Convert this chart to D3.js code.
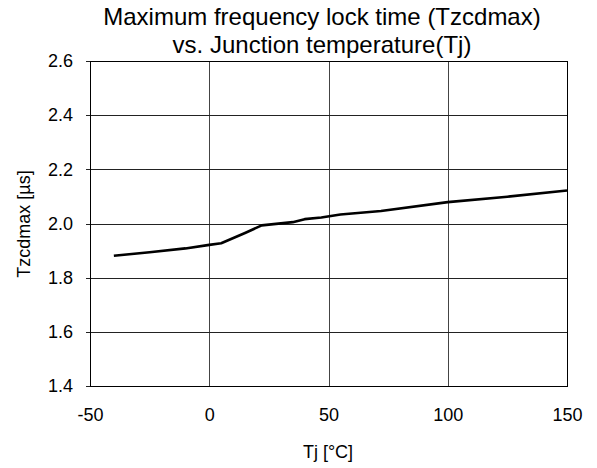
<!DOCTYPE html>
<html><head><meta charset="utf-8">
<script src="https://cdn.jsdelivr.net/npm/d3@7"></script>
<style>body{margin:0;background:#fff}svg{display:block;font-family:"Liberation Sans",Arial,sans-serif}</style>
</head><body><svg id="c" width="597" height="468"></svg>
<script>
const tempC = [-40, -25, -10, 0, 5, 15, 22, 35, 40, 47, 55, 72, 100, 125, 150];
const tzcdmax = [1.881, 1.894, 1.908, 1.921, 1.927, 1.965, 1.993, 2.005, 2.016, 2.022, 2.033, 2.046, 2.079, 2.099, 2.122];
const xTicks = [-50, 0, 50, 100, 150];
const yTicks = [1.4, 1.6, 1.8, 2.0, 2.2, 2.4, 2.6];
const titleLines = ["Maximum frequency lock time (Tzcdmax)", "vs. Junction temperature(Tj)"];

const svg = d3.select("#c");
const L = 90, R = 567, T = 61, B = 386;
const x = d3.scaleLinear().domain([-50, 150]).range([L, R]);
const y = d3.scaleLinear().domain([1.4, 2.6]).range([B, T]);

// grid
svg.append("g").selectAll("line").data(xTicks).join("line")
  .attr("x1", d => Math.round(x(d)) + 0.5).attr("x2", d => Math.round(x(d)) + 0.5)
  .attr("y1", T).attr("y2", B).attr("stroke", "#444").attr("stroke-width", 1);
svg.append("g").selectAll("line").data(yTicks).join("line")
  .attr("y1", d => Math.round(y(d)) + 0.5).attr("y2", d => Math.round(y(d)) + 0.5)
  .attr("x1", L - 4).attr("x2", R).attr("stroke", "#222").attr("stroke-width", 1);
// frame
svg.append("rect").attr("x", L + 0.5).attr("y", T + 0.5).attr("width", R - L).attr("height", B - T)
  .attr("fill", "none").attr("stroke", "#000").attr("stroke-width", 1);

// axes labels
const yAxis = d3.axisLeft(y).tickValues(yTicks).tickFormat(d3.format(".1f")).tickSize(0).tickPadding(17);
const gy = svg.append("g").attr("transform", `translate(${L},0)`).call(yAxis);
gy.select(".domain").remove();
gy.selectAll("text").attr("font-size", 18).attr("fill", "#000").attr("font-family", "Liberation Sans, Arial, sans-serif");

const xAxis = d3.axisBottom(x).tickValues(xTicks).tickFormat(d => String(d)).tickSize(0).tickPadding(22);
const gx = svg.append("g").attr("transform", `translate(0,${B})`).call(xAxis);
gx.select(".domain").remove();
gx.selectAll("text").attr("font-size", 18).attr("fill", "#000").attr("font-family", "Liberation Sans, Arial, sans-serif");

// line
const line = d3.line().x((d, i) => x(tempC[i])).y(d => y(d));
svg.append("path").datum(tzcdmax).attr("d", line).attr("fill", "none")
  .attr("stroke", "#000").attr("stroke-width", 2.6).attr("stroke-linejoin", "round");

// title
svg.append("text").attr("text-anchor", "middle").attr("font-size", 24)
  .selectAll("tspan").data(titleLines).join("tspan")
  .attr("x", 322).attr("y", (d, i) => 25 + i * 28).text(d => d);

svg.append("text").attr("x", 328).attr("y", 458).attr("text-anchor", "middle").attr("font-size", 18).text("Tj [°C]");
svg.append("text").attr("transform", "translate(30,224) rotate(-90)").attr("text-anchor", "middle")
  .attr("font-size", 18).text("Tzcdmax [µs]");
</script></body></html>
